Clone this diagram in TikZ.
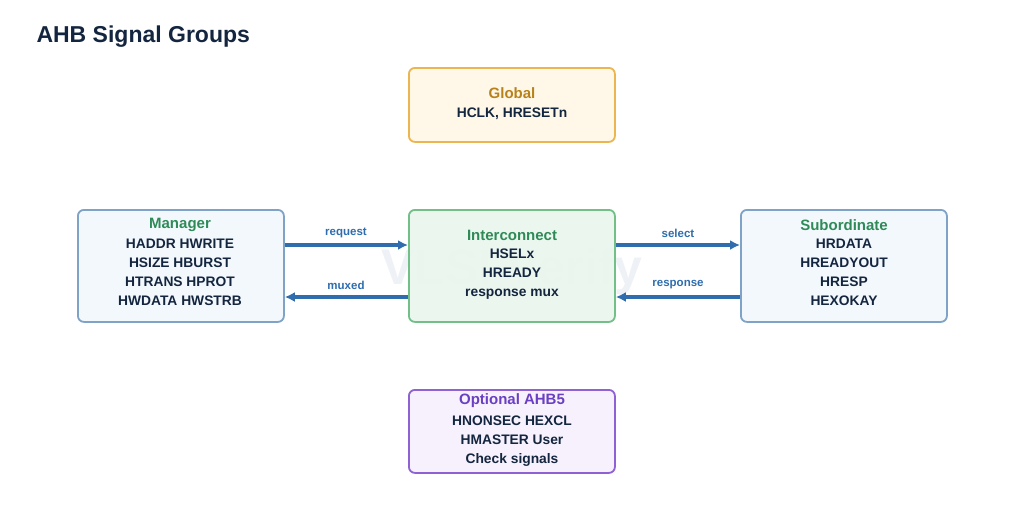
\documentclass[tikz,border=0pt]{standalone}
\usepackage{fontspec}
\setmainfont{Liberation Sans}
\usetikzlibrary{arrows.meta}
\definecolor{navy}{HTML}{14263F}
\definecolor{arr}{HTML}{2F6DAE}
\definecolor{gtitle}{HTML}{2E8B57}
\definecolor{bblue}{HTML}{7FA3C6}
\definecolor{fblue}{HTML}{F3F8FD}
\definecolor{borange}{HTML}{EBB54F}
\definecolor{forange}{HTML}{FFF8E8}
\definecolor{bgreen}{HTML}{72BF88}
\definecolor{fgreen}{HTML}{EAF6EE}
\definecolor{bviolet}{HTML}{8E62D4}
\definecolor{fviolet}{HTML}{F6F1FD}
\definecolor{tviolet}{HTML}{6A3FC2}
\definecolor{torange}{HTML}{B8821A}
\definecolor{wm}{HTML}{EEF1F6}
\begin{document}
\begin{tikzpicture}[x=1pt,y=-1pt,
  box/.style={draw,line width=1.8pt,rounded corners=6pt,minimum width=206pt,anchor=north west},
  ttl/.style={font=\bfseries\fontsize{15}{17}\selectfont},
  txt/.style={text=navy,font=\bfseries\fontsize{13.8}{19}\selectfont,align=center},
  con/.style={arr,line width=3.5pt,-{Latex[length=10pt,width=10pt]}},
  lab/.style={text=arr,font=\bfseries\fontsize{11.5}{13}\selectfont}]
\useasboundingbox[fill=white] (0,0) rectangle (1024,531);
\node[text=wm,font=\bfseries\fontsize{50}{52}\selectfont] (wmk) at (512,272) {VLSI Verify};
\node[anchor=west,text=navy,font=\bfseries\fontsize{23}{25}\selectfont] (title) at (33,37) {AHB Signal Groups};
% boxes
\node[box,fill=forange,draw=borange,minimum height=74pt] (glob) at (408,67) {};
\node[box,fill=fblue,draw=bblue,minimum height=112pt] (man) at (77,209) {};
\node[box,fill=fgreen,fill opacity=0.92,draw=bgreen,minimum height=112pt] (ic) at (408,209) {};
\node[box,fill=fblue,draw=bblue,minimum height=112pt] (sub) at (740,209) {};
\node[box,fill=fviolet,draw=bviolet,minimum height=83pt] (opt) at (408,389) {};
% texts
\node[ttl,text=torange] (globt) at (512,93) {Global};
\node[txt] (globx) at (512,114) {HCLK, HRESETn};
\node[ttl,text=gtitle] (mant) at (180,225) {Manager};
\node[txt,anchor=north] (manx) at (180,235) {HADDR HWRITE\\HSIZE HBURST\\HTRANS HPROT\\HWDATA HWSTRB};
\node[ttl,text=gtitle] (ict) at (512,235) {Interconnect};
\node[txt,anchor=north] (icx) at (512,245) {HSELx\\HREADY\\response mux};
\node[ttl,text=gtitle] (subt) at (844,225) {Subordinate};
\node[txt,anchor=north] (subx) at (844,235) {HRDATA\\HREADYOUT\\HRESP\\HEXOKAY};
\node[ttl,text=tviolet] (optt) at (512,401) {Optional AHB5};
\node[txt,anchor=north] (optx) at (512,412) {HNONSEC HEXCL\\HMASTER User\\Check signals};
% connectors
\draw[con] (man.east |- 0,245) -- (ic.west |- 0,245);
\draw[con] (ic.west |- 0,297) -- (man.east |- 0,297);
\draw[con] (ic.east |- 0,245) -- (sub.west |- 0,245);
\draw[con] (sub.west |- 0,297) -- (ic.east |- 0,297);
\node[lab] (l1) at (346,233) {request};
\node[lab] (l2) at (346,285) {muxed};
\node[lab] (l3) at (678,233) {select};
\node[lab] (l4) at (678,285) {response};
\end{tikzpicture}
\end{document}
